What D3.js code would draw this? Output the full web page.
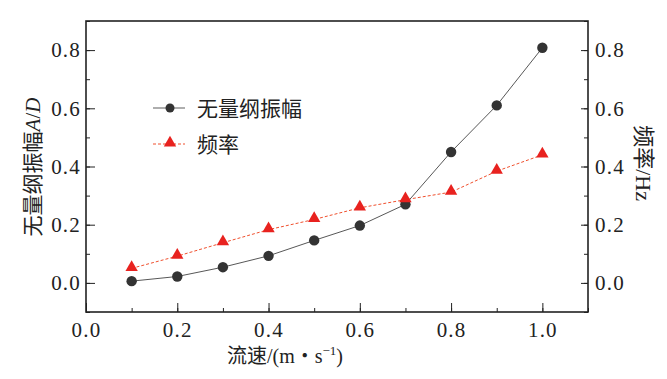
<!DOCTYPE html>
<html>
<head>
<meta charset="utf-8">
<script src="https://cdn.jsdelivr.net/npm/d3@7"></script>
<style>
  body { margin: 0; background: #fff; }
</style>
</head>
<body>
<div id="chart"></div>
<script>
// flow speed (m/s)
const speeds = [0.1, 0.2, 0.3, 0.4, 0.5, 0.6, 0.7, 0.8, 0.9, 1.0];
// dimensionless amplitude A/D
const amplitude = [0.006, 0.022, 0.054, 0.093, 0.146, 0.197, 0.27, 0.45, 0.61, 0.808];
// frequency (Hz)
const frequency = [0.05, 0.092, 0.138, 0.183, 0.218, 0.258, 0.286, 0.312, 0.384, 0.44];

const xTicks = [0.0, 0.2, 0.4, 0.6, 0.8, 1.0];
const yTicks = [0.0, 0.2, 0.4, 0.6, 0.8];
const legendNames = ["无量纲振幅", "频率"];

const width = 667, height = 379;
const margin = { top: 21, right: 79, bottom: 67, left: 86 };
const font = "'Liberation Serif', 'Noto Sans CJK SC', serif";

const svg = d3.select("#chart").append("svg")
  .attr("width", width)
  .attr("height", height)
  .attr("font-family", font);

const x = d3.scaleLinear().domain([0, 1.1]).range([margin.left, width - margin.right]);
const y = d3.scaleLinear().domain([-0.1, 0.9]).range([height - margin.bottom, margin.top]);

const fmt = d3.format(".1f");
const minor = d3.range(0, 1.1001, 0.1);
const minorY = d3.range(-0.1, 0.9001, 0.1);

function styleAxis(g) {
  g.attr("font-family", font);
  g.select(".domain").remove();
  g.selectAll("text").attr("font-size", 21).attr("letter-spacing", 1.2)
    .attr("fill", "#222").attr("font-family", font);
  g.selectAll("line").attr("stroke", "#222");
}

// x axis: major ticks inward, minor ticks short
svg.append("g")
  .attr("transform", `translate(0,${y.range()[0]})`)
  .call(d3.axisBottom(x).tickValues(minor).tickSize(-4).tickFormat(""))
  .call(styleAxis);
svg.append("g")
  .attr("transform", `translate(0,${y.range()[0]})`)
  .call(d3.axisBottom(x).tickValues(xTicks).tickSize(-9).tickPadding(10).tickFormat(fmt))
  .call(styleAxis);

// left axis
svg.append("g")
  .attr("transform", `translate(${x.range()[0]},0)`)
  .call(d3.axisLeft(y).tickValues(minorY).tickSize(-4).tickFormat(""))
  .call(styleAxis);
svg.append("g")
  .attr("transform", `translate(${x.range()[0]},0)`)
  .call(d3.axisLeft(y).tickValues(yTicks).tickSize(-9).tickPadding(5).tickFormat(fmt))
  .call(styleAxis);

// right axis (same scale)
svg.append("g")
  .attr("transform", `translate(${x.range()[1]},0)`)
  .call(d3.axisRight(y).tickValues(minorY).tickSize(-4).tickFormat(""))
  .call(styleAxis);
svg.append("g")
  .attr("transform", `translate(${x.range()[1]},0)`)
  .call(d3.axisRight(y).tickValues(yTicks).tickSize(-7).tickPadding(7).tickFormat(fmt))
  .call(styleAxis);

// frame
svg.append("rect")
  .attr("x", x.range()[0])
  .attr("y", y.range()[1])
  .attr("width", x.range()[1] - x.range()[0])
  .attr("height", y.range()[0] - y.range()[1])
  .attr("fill", "none")
  .attr("stroke", "#222")
  .attr("stroke-width", 1.6);

const line = d3.line().x(d => x(d[0])).y(d => y(d[1]));
const ampData = speeds.map((s, i) => [s, amplitude[i]]);
const freqData = speeds.map((s, i) => [s, frequency[i]]);

const red = "#e8221f";
const tri = d3.symbol().type(d3.symbolTriangle).size(66);

// frequency series
svg.append("path")
  .datum(freqData)
  .attr("d", line)
  .attr("fill", "none")
  .attr("stroke", "#f0502e")
  .attr("stroke-width", 1)
  .attr("stroke-dasharray", "3,2");

// amplitude series
svg.append("path")
  .datum(ampData)
  .attr("d", line)
  .attr("fill", "none")
  .attr("stroke", "#444")
  .attr("stroke-width", 0.9);

svg.append("g").selectAll("circle")
  .data(ampData)
  .join("circle")
  .attr("cx", d => x(d[0]))
  .attr("cy", d => y(d[1]))
  .attr("r", 5.2)
  .attr("fill", "#333");

svg.append("g").selectAll("path")
  .data(freqData)
  .join("path")
  .attr("d", tri)
  .attr("transform", d => `translate(${x(d[0])},${y(d[1]) - 1})`)
  .attr("fill", red);

// legend
const leg = svg.append("g").attr("transform", "translate(153,108)");
leg.append("line").attr("x1", 0).attr("x2", 32).attr("y1", 0).attr("y2", 0)
  .attr("stroke", "#777").attr("stroke-width", 1.2);
leg.append("circle").attr("cx", 17).attr("cy", 0).attr("r", 4.5).attr("fill", "#333");
leg.append("text").attr("x", 44).attr("y", 0).attr("dy", "0.36em")
  .attr("font-size", 21).attr("fill", "#222").text(legendNames[0]);

leg.append("line").attr("x1", 0).attr("x2", 32).attr("y1", 36).attr("y2", 36)
  .attr("stroke", "#f0502e").attr("stroke-width", 1).attr("stroke-dasharray", "3,2");
leg.append("path").attr("d", tri).attr("transform", "translate(17,35)").attr("fill", red);
leg.append("text").attr("x", 44).attr("y", 36).attr("dy", "0.36em")
  .attr("font-size", 21).attr("fill", "#222").text(legendNames[1]);

// axis titles
const xt = svg.append("text")
  .attr("x", 285).attr("y", 363)
  .attr("text-anchor", "middle")
  .attr("fill", "#222")
  .attr("font-size", 20);
xt.append("tspan").text("流速/(m・s");
xt.append("tspan").attr("dy", -8).attr("font-size", 13).text("−1");
xt.append("tspan").attr("dy", 8).text(")");

const yt = svg.append("text")
  .attr("transform", "translate(40,167) rotate(-90)")
  .attr("text-anchor", "middle")
  .attr("fill", "#222")
  .attr("font-size", 21);
yt.append("tspan").text("无量纲振幅");
yt.append("tspan").attr("font-style", "italic").text("A");
yt.append("tspan").text("/");
yt.append("tspan").attr("font-style", "italic").text("D");

svg.append("text")
  .attr("transform", "translate(636,163) rotate(90)")
  .attr("text-anchor", "middle")
  .attr("fill", "#222")
  .attr("font-size", 22)
  .text("频率/Hz");
</script>
</body>
</html>
